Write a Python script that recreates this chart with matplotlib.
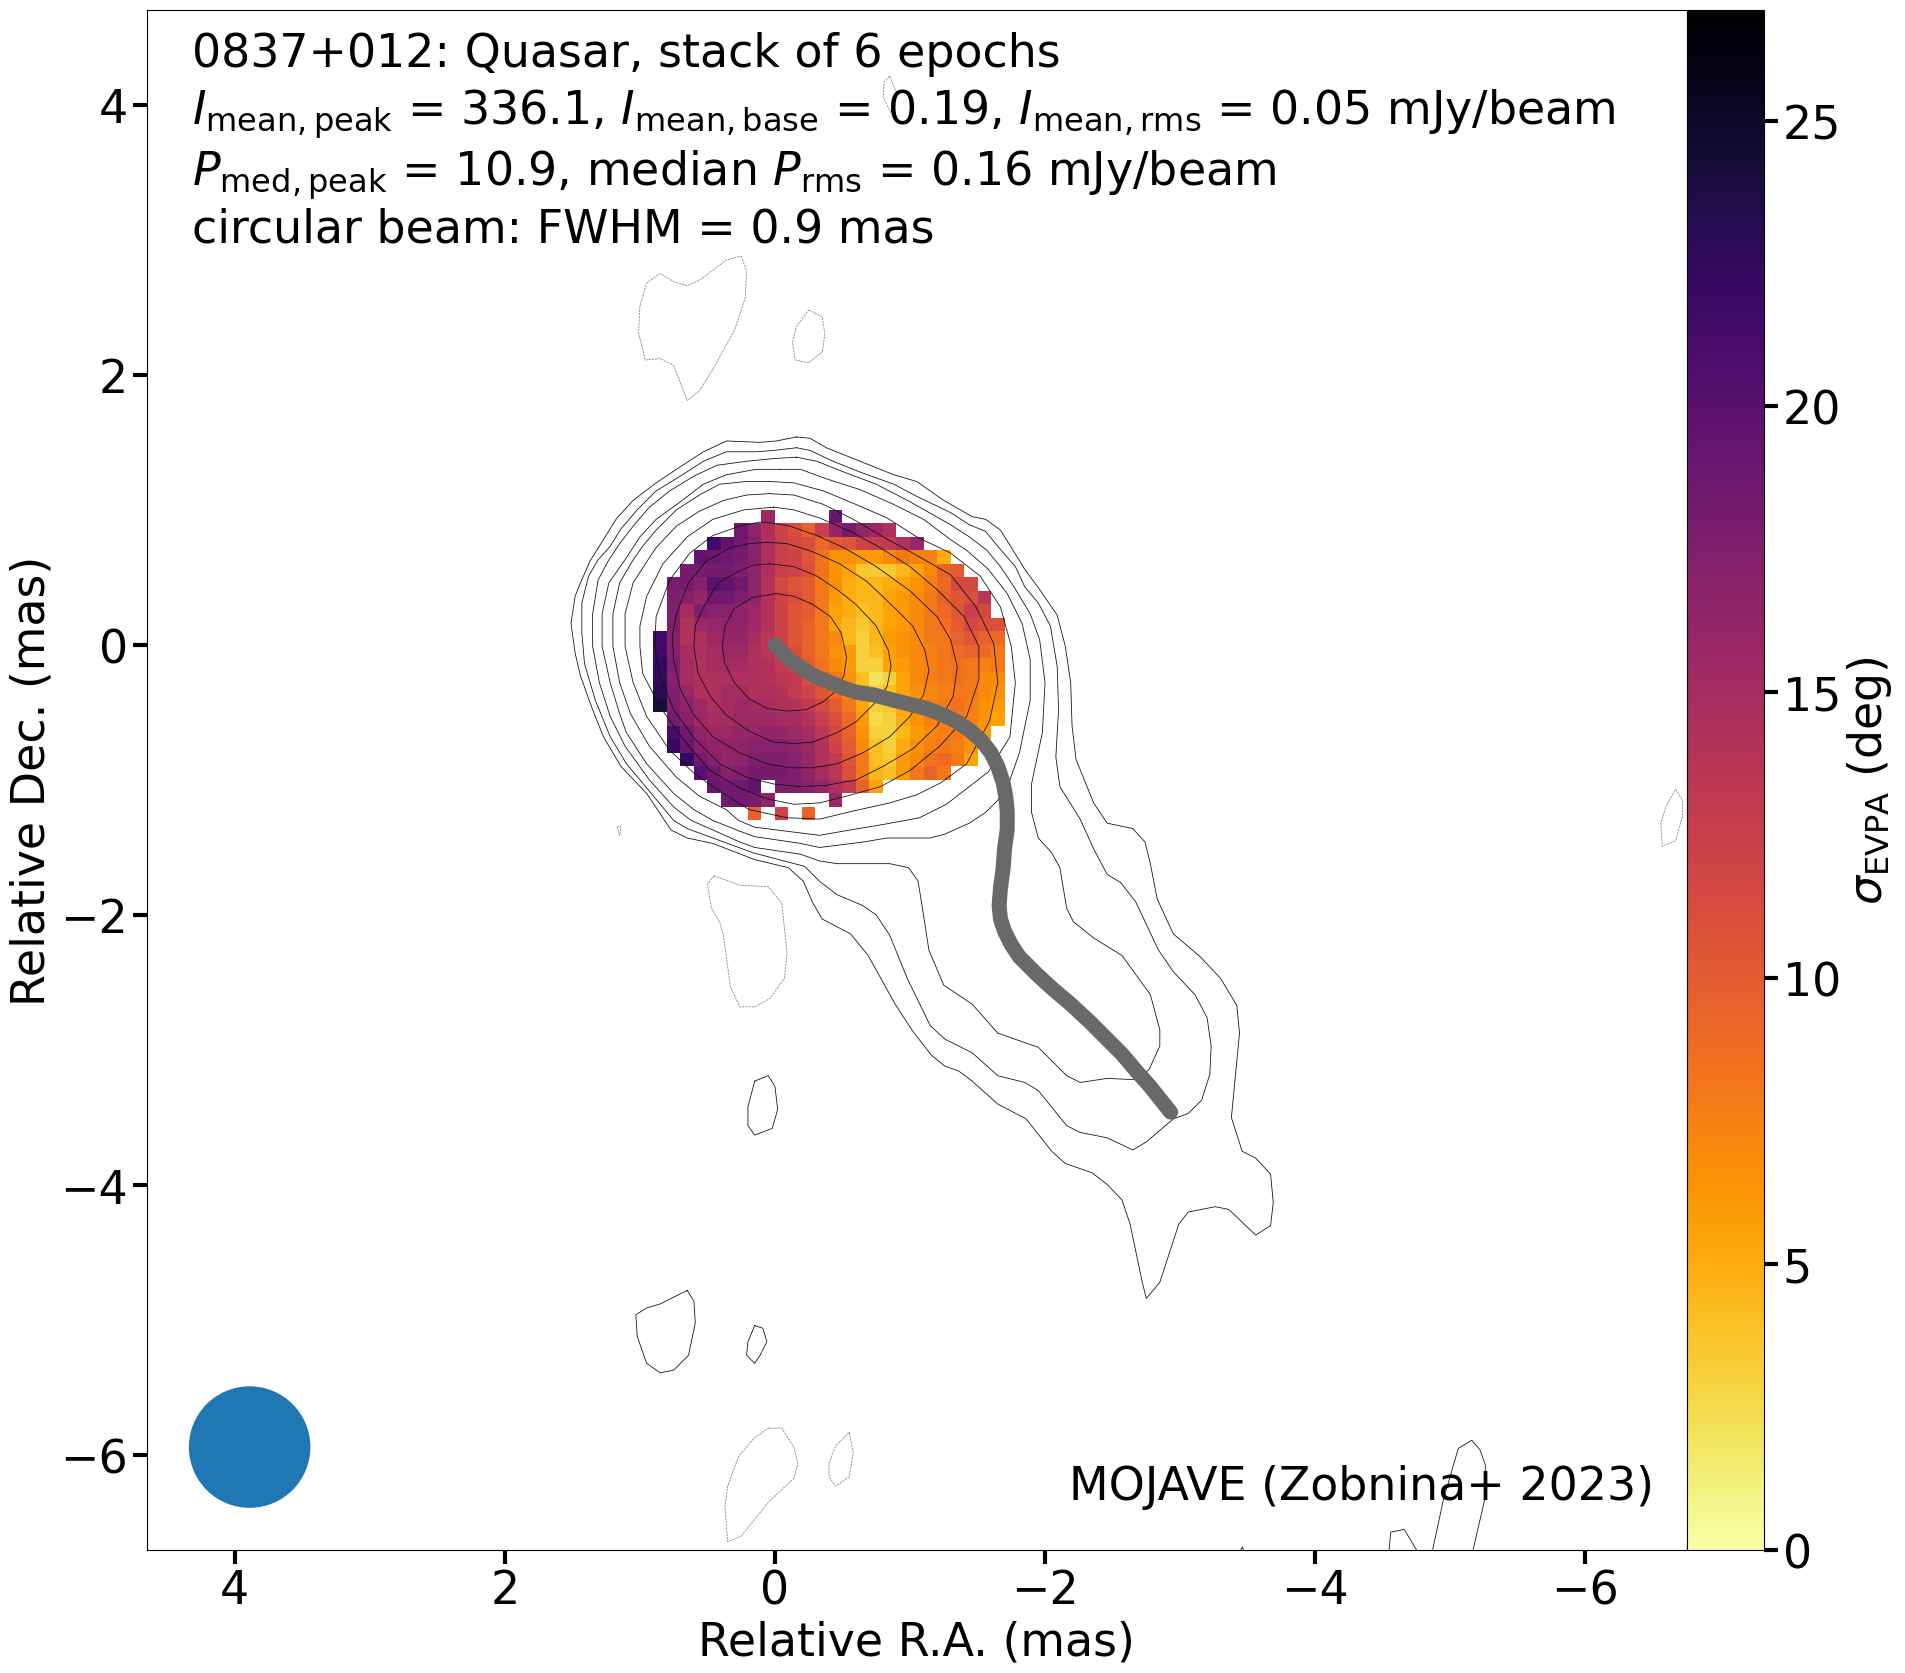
import numpy as np
import matplotlib
matplotlib.use("Agg")
import matplotlib.pyplot as plt
from matplotlib.patches import Circle

_ = np.nan
# sigma_EVPA map (deg), rows from Dec=+1.0 downward, columns from RA=+0.9 toward negative RA, 0.1 mas cells
ra_edges = np.round(np.arange(0.9, -1.75, -0.1), 2)
dec_edges = np.round(np.arange(1.0, -1.35, -0.1), 2)
sigma_rows = [
 [_,_,_,_,_,_,_,_,15.5,_,_,_,_,19,_,_,_,_,_,_,_,_,_,_,_,_],
 [_,_,_,_,_,_,18.5,16.5,14.5,12,11,9.5,12.5,16,18,16.5,15.5,14.5,_,_,_,_,_,_,_,_],
 [_,_,_,_,21.5,19.5,18.5,17,14.5,12.5,11.5,11,9,10,10.5,12,12.5,13,14,16,_,_,_,_,_,_],
 [_,_,_,19.5,19,18.5,18,17,14.5,12.5,12,10.5,8.5,6.5,6.5,6,6,7,8,7.5,7.5,5,_,_,_,_],
 [_,_,18,18,18,18,17.5,16.5,14.5,12.5,12,11,8.5,6.5,5.5,3.5,3.5,3.5,4.5,5.5,7,9.5,10,_,_,_],
 [_,18,18,17,20,19.5,18.5,16.5,14,11.5,10.5,10,8,6.5,5,4.5,4.5,5,5.5,6.5,7.5,9,11.5,11.5,_,_],
 [_,17.5,17,16,18.5,18.5,17.5,16.5,14,12,11,10,8,6,5,4.5,4.5,5.5,6,7,8,9.5,10.5,11,13.5,_],
 [_,17.5,15,17.5,17,17,16.5,15.5,14,12,10.5,10,8,5.5,5,4,4.5,5.5,6,7,8,9,10.5,12.5,11.5,_],
 [_,17.5,14,15.5,16,16.5,16.5,15.5,14,12,10.5,9.5,8,5.5,4.5,3.5,4.5,5.5,6,7,8,8.5,10,11.5,11,11],
 [21.5,17,14,14.5,15.5,16,16,15,13.5,12,10.5,9.5,8,7,4.5,3,4.5,6,6.5,7,8,8,9.5,10.5,9.5,9],
 [21.5,17,15,14.5,15,15.5,15.5,14.5,13.5,12,11,9.5,8,6.5,6,3,4,5.5,6.5,7,7.5,8,9,9.5,9,8],
 [22.5,17.5,15,14.5,15,15,15,14.5,14,13,12,10,8.5,7,6,3,3,5.5,6,7,7.5,8,8.5,8,7.5,8],
 [22.5,17,15,14.5,14.5,14.5,14.5,14.5,14,13.5,13,11,10,8,6.5,4,2,3,5.5,7,7.5,8,8.5,8,7,7],
 [23,17.5,16,14.5,14.5,15,15,14.5,14.5,14,13,12,10.5,9,7,5,3,4,5.5,6.5,7,7.5,8,8,7,6.5],
 [24,17.5,16.5,15.5,14.5,15,15.5,15,15,14.5,14,13,11.5,10,8,5.5,3,3.5,5,7,7.5,8,8.5,7.5,6.5,6],
 [_,18,17,15.5,15,15,15.5,15.5,15.5,15,15,14,12.5,11,9,6,2.5,3,5,6.5,7.5,8,8,7.5,6.5,5.5],
 [_,21,18.5,16.5,15.5,15.5,16,16,16.5,16,15.5,15,13.5,11.5,9.5,6.5,3,3,4.5,6,7,7.5,8,7,6,_],
 [_,22,19,17,16.5,16.5,16.5,17,17,17,16.5,15.5,14,12,10,7,4,3,5,6.5,7.5,8,7.5,6.5,_,_],
 [_,_,22.5,18.5,17,16,16.5,17.5,17.5,17.5,17,16,14,13,10.5,8,4,3.5,6,7,8.5,9,8,5.5,_,_],
 [_,_,_,20,18.5,17,17.5,18,18,18,17.5,16.5,15,13.5,11,8,4.5,4,6,8,9.5,8,_,_,_,_],
 [_,_,_,_,19,18.5,18.5,19.5,_,17.5,17.5,17,16,14.5,13,9.5,5.5,_,_,_,_,_,_,_,_,_],
 [_,_,_,_,_,18.5,18.5,18,16.5,_,_,_,_,15.5,_,_,_,_,_,_,_,_,_,_,_,_],
 [_,_,_,_,_,_,_,9.5,_,12,_,9.5,_,_,_,_,_,_,_,_,_,_,_,_,_,_],
]

# Positive Stokes I contours (RA, Dec) in mas
c1 = [(-.16,1.54),(-.26,1.53),(-.38,1.46),(-.63,1.36),(-.88,1.26),(-1.05,1.21),(-1.25,1.07),(-1.46,.95),(-1.56,.93),(-1.67,.85),(-1.85,.56),(-1.96,.41),(-2.09,.22),(-2.15,-.01),(-2.19,-.28),(-2.20,-.60),(-2.23,-.85),(-2.36,-1.17),(-2.46,-1.32),(-2.65,-1.36),(-2.74,-1.46),(-2.78,-1.62),(-2.83,-1.88),(-2.95,-2.14),(-3.15,-2.31),(-3.30,-2.47),(-3.42,-2.67),(-3.44,-2.875),(-3.40,-3.29),(-3.38,-3.50),(-3.46,-3.75),(-3.56,-3.80),(-3.67,-3.92),(-3.69,-4.13),(-3.67,-4.30),(-3.56,-4.37),(-3.36,-4.18),(-3.26,-4.16),(-3.06,-4.20),(-2.99,-4.29),(-2.85,-4.72),(-2.75,-4.84),(-2.72,-4.72),(-2.63,-4.29),(-2.57,-4.11),(-2.46,-3.996),(-2.35,-3.91),(-2.15,-3.84),(-2.05,-3.75),(-1.86,-3.51),(-1.65,-3.40),(-1.46,-3.23),(-1.36,-3.155),(-1.26,-3.12),(-1.16,-3.04),(-1.02,-2.86),(-.89,-2.66),(-.69,-2.30),(-.56,-2.14),(-.35,-2.03),(-.28,-1.91),(-.21,-1.75),(-.10,-1.65),(.15,-1.59),(.46,-1.47),(.65,-1.43),(.77,-1.37),(.95,-1.10),(1.14,-.90),(1.27,-.68),(1.35,-.48),(1.44,-.23),(1.48,-.06),(1.51,.16),(1.48,.36),(1.44,.46),(1.37,.62),(1.27,.78),(1.17,.94),(1.05,1.07),(.88,1.20),(.70,1.32),(.53,1.43),(.36,1.51),(.11,1.50),(-.01,1.51)]
c2 = [(-.16,1.46),(-.26,1.44),(-.43,1.36),(-.63,1.28),(-.88,1.19),(-1.05,1.10),(-1.30,.98),(-1.44,.89),(-1.56,.84),(-1.65,.73),(-1.78,.58),(-1.85,.43),(-1.95,.31),(-2.04,.14),(-2.09,-.16),(-2.10,-.48),(-2.08,-.83),(-2.11,-1.05),(-2.26,-1.29),(-2.36,-1.51),(-2.46,-1.70),(-2.56,-1.76),(-2.67,-1.90),(-2.84,-2.26),(-2.95,-2.42),(-3.11,-2.59),(-3.20,-2.76),(-3.23,-2.97),(-3.22,-3.18),(-3.16,-3.37),(-3.06,-3.47),(-2.95,-3.51),(-2.75,-3.68),(-2.65,-3.74),(-2.46,-3.65),(-2.26,-3.61),(-2.16,-3.56),(-1.95,-3.30),(-1.85,-3.24),(-1.65,-3.19),(-1.46,-3.02),(-1.26,-2.92),(-1.15,-2.82),(-.98,-2.47),(-.85,-2.15),(-.75,-2.00),(-.65,-1.93),(-.46,-1.85),(-.33,-1.75),(-.22,-1.64),(.16,-1.54),(.46,-1.43),(.65,-1.36),(.75,-1.30),(.94,-1.07),(1.10,-.88),(1.22,-.68),(1.33,-.41),(1.41,-.14),(1.43,.09),(1.43,.31),(1.38,.51),(1.31,.63),(1.22,.73),(1.14,.86),(1.02,1.00),(.88,1.14),(.70,1.25),(.53,1.36),(.36,1.43),(.14,1.43),(.01,1.44)]
c3 = [(-.16,1.39),(-.31,1.36),(-.51,1.28),(-.75,1.19),(-1.00,1.06),(-1.30,.89),(-1.44,.80),(-1.57,.70),(-1.67,.58),(-1.77,.43),(-1.89,.23),(-1.96,.04),(-2.00,-.28),(-1.98,-.65),(-1.90,-1.03),(-1.90,-1.24),(-1.95,-1.43),(-2.05,-1.54),(-2.11,-1.65),(-2.16,-1.95),(-2.21,-2.05),(-2.36,-2.17),(-2.57,-2.30),(-2.78,-2.59),(-2.85,-2.85),(-2.85,-2.97),(-2.77,-3.145),(-2.67,-3.22),(-2.46,-3.21),(-2.26,-3.24),(-2.16,-3.19),(-1.95,-2.98),(-1.65,-2.875),(-1.46,-2.66),(-1.25,-2.52),(-1.14,-2.26),(-1.10,-2.00),(-1.06,-1.75),(-.99,-1.65),(-.85,-1.62),(-.46,-1.62),(-.33,-1.60),(-.19,-1.55),(.15,-1.50),(.26,-1.46),(.46,-1.37),(.62,-1.30),(.75,-1.20),(.93,-1.00),(1.11,-.75),(1.22,-.53),(1.30,-.28),(1.35,-.01),(1.35,.23),(1.31,.48),(1.23,.63),(1.15,.75),(1.05,.88),(.93,1.02),(.78,1.14),(.60,1.25),(.43,1.33),(.21,1.36),(.01,1.38)]
c4 = [(-.04,1.30),(-.19,1.30),(-.38,1.23),(-.63,1.15),(-.88,1.04),(-1.10,.93),(-1.30,.78),(-1.42,.70),(-1.58,.56),(-1.72,.38),(-1.83,.16),(-1.89,-.11),(-1.89,-.41),(-1.81,-.80),(-1.74,-1.00),(-1.65,-1.15),(-1.56,-1.24),(-1.44,-1.32),(-1.26,-1.40),(-1.15,-1.43),(-.83,-1.43),(-.65,-1.46),(-.33,-1.50),(-.19,-1.47),(.15,-1.42),(.26,-1.38),(.46,-1.30),(.60,-1.22),(.75,-1.10),(.95,-.88),(1.10,-.65),(1.15,-.51),(1.22,-.28),(1.28,-.01),(1.28,.23),(1.23,.46),(1.11,.63),(1.00,.80),(.88,.93),(.70,1.06),(.53,1.19),(.36,1.26),(.14,1.30)]
c5 = [(.04,1.21),(-.14,1.20),(-.36,1.14),(-.60,1.04),(-.83,.94),(-1.05,.80),(-1.30,.68),(-1.52,.51),(-1.67,.28),(-1.75,-.01),(-1.78,-.28),(-1.74,-.68),(-1.58,-.94),(-1.27,-1.18),(-1.07,-1.28),(-.80,-1.33),(-.56,-1.37),(-.33,-1.41),(-.09,-1.38),(.15,-1.35),(.27,-1.30),(.36,-1.22),(.56,-1.12),(.73,-.98),(.93,-.75),(1.07,-.51),(1.15,-.28),(1.20,-.01),(1.20,.23),(1.15,.46),(1.05,.63),(.98,.73),(.88,.85),(.73,1.00),(.56,1.11),(.41,1.19),(.21,1.21)]
c6 = [(.04,1.12),(-.14,1.11),(-.36,1.04),(-.58,.93),(-.80,.80),(-1.02,.68),(-1.30,.52),(-1.49,.28),(-1.62,.01),(-1.65,-.28),(-1.59,-.56),(-1.42,-.88),(-1.23,-1.02),(-1.05,-1.11),(-.85,-1.17),(-.58,-1.23),(-.33,-1.29),(-.09,-1.28),(.19,-1.22),(.43,-1.07),(.60,-.95),(.78,-.78),(.95,-.53),(1.05,-.28),(1.11,-.01),(1.11,.23),(1.05,.46),(.94,.63),(.88,.72),(.73,.88),(.56,.99),(.38,1.07),(.21,1.11)]
c7 = [(.01,1.02),(-.14,1.00),(-.33,.94),(-.56,.84),(-.78,.72),(-1.00,.58),(-1.20,.41),(-1.40,.21),(-1.51,-.01),(-1.51,-.26),(-1.42,-.53),(-1.22,-.75),(-1.00,-.93),(-.78,-1.05),(-.53,-1.12),(-.33,-1.17),(-.14,-1.18),(.06,-1.14),(.26,-1.06),(.48,-.93),(.68,-.70),(.85,-.46),(.98,-.21),(1.00,-.01),(1.00,.14),(.95,.36),(.83,.60),(.65,.80),(.46,.93),(.23,1.00)]
c8 = [(.01,.90),(-.11,.88),(-.31,.81),(-.51,.72),(-.75,.58),(-1.00,.40),(-1.20,.21),(-1.30,.04),(-1.35,-.16),(-1.32,-.38),(-1.20,-.60),(-1.02,-.77),(-.80,-.90),(-.60,-1.00),(-.38,-1.04),(-.19,-1.05),(.01,-1.03),(.21,-.98),(.41,-.88),(.60,-.69),(.75,-.48),(.85,-.23),(.89,-.01),(.88,.21),(.78,.48),(.63,.68),(.46,.81),(.26,.88),(.11,.91)]
c9 = [(.06,.76),(-.09,.75),(-.28,.69),(-.48,.60),(-.68,.47),(-.88,.28),(-1.02,.14),(-1.11,-.04),(-1.14,-.19),(-1.10,-.37),(-1.00,-.53),(-.85,-.68),(-.65,-.80),(-.46,-.88),(-.28,-.91),(-.11,-.91),(.06,-.88),(.26,-.80),(.46,-.68),(.60,-.52),(.70,-.33),(.75,-.11),(.76,.06),(.73,.23),(.64,.46),(.51,.62),(.33,.72),(.19,.75)]
c10 = [(.04,.60),(-.14,.58),(-.31,.51),(-.46,.41),(-.60,.30),(-.75,.14),(-.84,-.04),(-.86,-.16),(-.83,-.31),(-.73,-.44),(-.60,-.57),(-.46,-.65),(-.28,-.72),(-.14,-.73),(.01,-.72),(.19,-.64),(.36,-.52),(.48,-.38),(.57,-.21),(.60,-.01),(.59,.14),(.53,.28),(.42,.46),(.28,.54),(.16,.59)]
c11 = [(-.01,.38),(-.14,.36),(-.28,.30),(-.41,.21),(-.49,.09),(-.53,-.09),(-.51,-.23),(-.44,-.35),(-.36,-.42),(-.23,-.48),(-.09,-.49),(.06,-.47),(.19,-.40),(.30,-.28),(.37,-.14),(.39,-.01),(.37,.14),(.30,.27),(.17,.35)]
p1 = [(.15,-3.23),(.05,-3.19),(0,-3.27),(-.02,-3.44),(.02,-3.58),(.15,-3.63),(.20,-3.56),(.20,-3.42)]
p2 = [(.65,-4.78),(.60,-4.86),(.59,-5.02),(.64,-5.26),(.75,-5.37),(.85,-5.39),(.95,-5.32),(1.02,-5.12),(1.03,-4.96),(.95,-4.91),(.85,-4.88)]
p3 = [(.15,-5.04),(.09,-5.06),(.06,-5.16),(.11,-5.26),(.15,-5.32),(.21,-5.26),(.20,-5.16)]
p4 = [(-4.54,-6.78),(-4.56,-6.57),(-4.66,-6.55),(-4.75,-6.70),(-4.80,-6.78)]
p5 = [(-4.85,-6.78),(-4.87,-6.70),(-4.95,-6.33),(-5.06,-5.95),(-5.16,-5.89),(-5.22,-5.96),(-5.26,-6.07),(-5.26,-6.31),(-5.17,-6.70),(-5.15,-6.78)]
p6 = [(-3.44,-6.72),(-3.46,-6.68),(-3.48,-6.72)]
# Negative contours
n1 = [(.25,2.88),(.21,2.77),(.22,2.57),(.30,2.33),(.46,2.04),(.56,1.88),(.65,1.81),(.75,2.07),(.85,2.12),(.96,2.11),(1.01,2.31),(1.00,2.51),(.95,2.68),(.85,2.75),(.75,2.69),(.65,2.66),(.56,2.70),(.36,2.85)]
n2 = [(-.25,2.48),(-.35,2.43),(-.37,2.30),(-.35,2.17),(-.25,2.09),(-.15,2.11),(-.13,2.24),(-.16,2.36)]
n3 = [(-.85,4.21),(-.90,4.09),(-.86,3.94),(-.80,4.06),(-.81,4.17)]
n4 = [(1.17,-1.35),(1.15,-1.41),(1.14,-1.35),(1.15,-1.34)]
n5 = [(.45,-1.71),(.26,-1.78),(.05,-1.79),(-.05,-1.91),(-.09,-2.28),(-.07,-2.47),(.04,-2.62),(.15,-2.68),(.26,-2.68),(.33,-2.53),(.38,-2.16),(.41,-2.05),(.47,-1.95),(.50,-1.77)]
n6 = [(.05,-5.80),(-.05,-5.80),(-.14,-5.94),(-.17,-6.06),(-.14,-6.17),(.05,-6.35),(.25,-6.60),(.35,-6.64),(.37,-6.38),(.35,-6.23),(.27,-6.01),(.16,-5.88)]
n7 = [(-.55,-5.83),(-.58,-5.98),(-.55,-6.16),(-.45,-6.23),(-.40,-6.16),(-.40,-6.06),(-.45,-5.93)]
n8 = [(-6.67,-1.07),(-6.72,-1.15),(-6.72,-1.27),(-6.67,-1.45),(-6.57,-1.49),(-6.56,-1.32),(-6.60,-1.19)]
# Jet ridgeline
ridge_ra = [0,-.05,-.11,-.21,-.31,-.41,-.51,-.60,-.73,-.88,-1.00,-1.12,-1.25,-1.35,-1.44,-1.53,-1.60,-1.65,-1.69,-1.71,-1.72,-1.72,-1.70,-1.69,-1.67,-1.66,-1.67,-1.70,-1.75,-1.81,-1.94,-2.06,-2.19,-2.33,-2.46,-2.57,-2.68,-2.77,-2.85,-2.93]
ridge_dec = [0,-.05,-.11,-.18,-.24,-.28,-.32,-.35,-.37,-.41,-.44,-.47,-.52,-.57,-.63,-.71,-.80,-.90,-1.02,-1.13,-1.23,-1.37,-1.51,-1.65,-1.80,-1.93,-2.03,-2.12,-2.22,-2.31,-2.44,-2.55,-2.66,-2.79,-2.92,-3.03,-3.16,-3.26,-3.36,-3.46]
xticks = [4, 2, 0, -2, -4, -6]
yticks = [4, 2, 0, -2, -4, -6]
cbar_ticks = [0, 5, 10, 15, 20, 25]
sigma_max = 26.93
beam_fwhm = 0.9
header = [
    "0837+012: Quasar, stack of 6 epochs",
    r"$I_\mathrm{mean,peak}$ = 336.1, $I_\mathrm{mean,base}$ = 0.19, $I_\mathrm{mean,rms}$ = 0.05 mJy/beam",
    r"$P_\mathrm{med,peak}$ = 10.9, median $P_\mathrm{rms}$ = 0.16 mJy/beam",
    "circular beam: FWHM = 0.9 mas",
]
credit = "MOJAVE (Zobnina+ 2023)"

W, H = 1905, 1674
plt.rcParams["font.family"] = ["DejaVu Sans"]
plt.rcParams["mathtext.default"] = "it"
FS = 33
fig = plt.figure(figsize=(W / 100, H / 100), dpi=100)
ax = fig.add_axes([147 / W, (H - 1550.7) / H, 1539.5 / W, 1539.5 / H])
cax = fig.add_axes([1686.5 / W, (H - 1550.7) / H, 77.5 / W, 1539.5 / H])

sigma = np.array(sigma_rows, dtype=float)
mesh = ax.pcolormesh(ra_edges, dec_edges, np.ma.masked_invalid(sigma), cmap="inferno_r",
                     vmin=0, vmax=sigma_max, antialiased=False, zorder=1)

for c in [c1, c2, c3, c4, c5, c6, c7, c8, c9, c10, c11, p1, p2, p3]:
    a = np.array(c + c[:1])
    ax.plot(a[:, 0], a[:, 1], color="#111111", lw=0.58, zorder=2)
for c in [p4, p5, p6]:
    a = np.array(c)
    ax.plot(a[:, 0], a[:, 1], color="#111111", lw=0.58, zorder=2)
for c in [n1, n2, n3, n4, n5, n6, n7, n8]:
    a = np.array(c + c[:1])
    ax.plot(a[:, 0], a[:, 1], color="#808080", lw=0.55, ls=(0, (3, 1.2)), zorder=2)

ax.plot(ridge_ra, ridge_dec, color="#696969", lw=10.8, solid_capstyle="round",
        solid_joinstyle="round", zorder=3)
ax.add_patch(Circle((3.89, -5.94), beam_fwhm / 2, facecolor="#1f77b4", edgecolor="none", zorder=4))

ax.set_xlim(4.65, -6.75)
ax.set_ylim(-6.7, 4.7)
ax.set_aspect("equal")
ax.set_xticks(xticks)
ax.set_yticks(yticks)
ax.tick_params(labelsize=FS, length=10, width=3)
ax.set_xlabel("Relative R.A. (mas)", fontsize=FS, labelpad=4)
ax.set_ylabel("Relative Dec. (mas)", fontsize=FS, labelpad=4)

for txt, yy in zip(header, [0.9635, 0.9267, 0.887, 0.8495]):
    ax.text(0.029, yy, txt, transform=ax.transAxes, fontsize=FS, ha="left", va="baseline", zorder=5)
ax.text(0.979, 0.0331, credit, transform=ax.transAxes, fontsize=FS, ha="right", va="baseline", zorder=5)

cb = fig.colorbar(mesh, cax=cax, ticks=cbar_ticks)
cb.ax.tick_params(labelsize=FS, length=10, width=3)
cb.set_label(r"$\sigma_\mathrm{EVPA}$ (deg)", fontsize=FS, labelpad=3)

fig.savefig("out.png", dpi=100)
